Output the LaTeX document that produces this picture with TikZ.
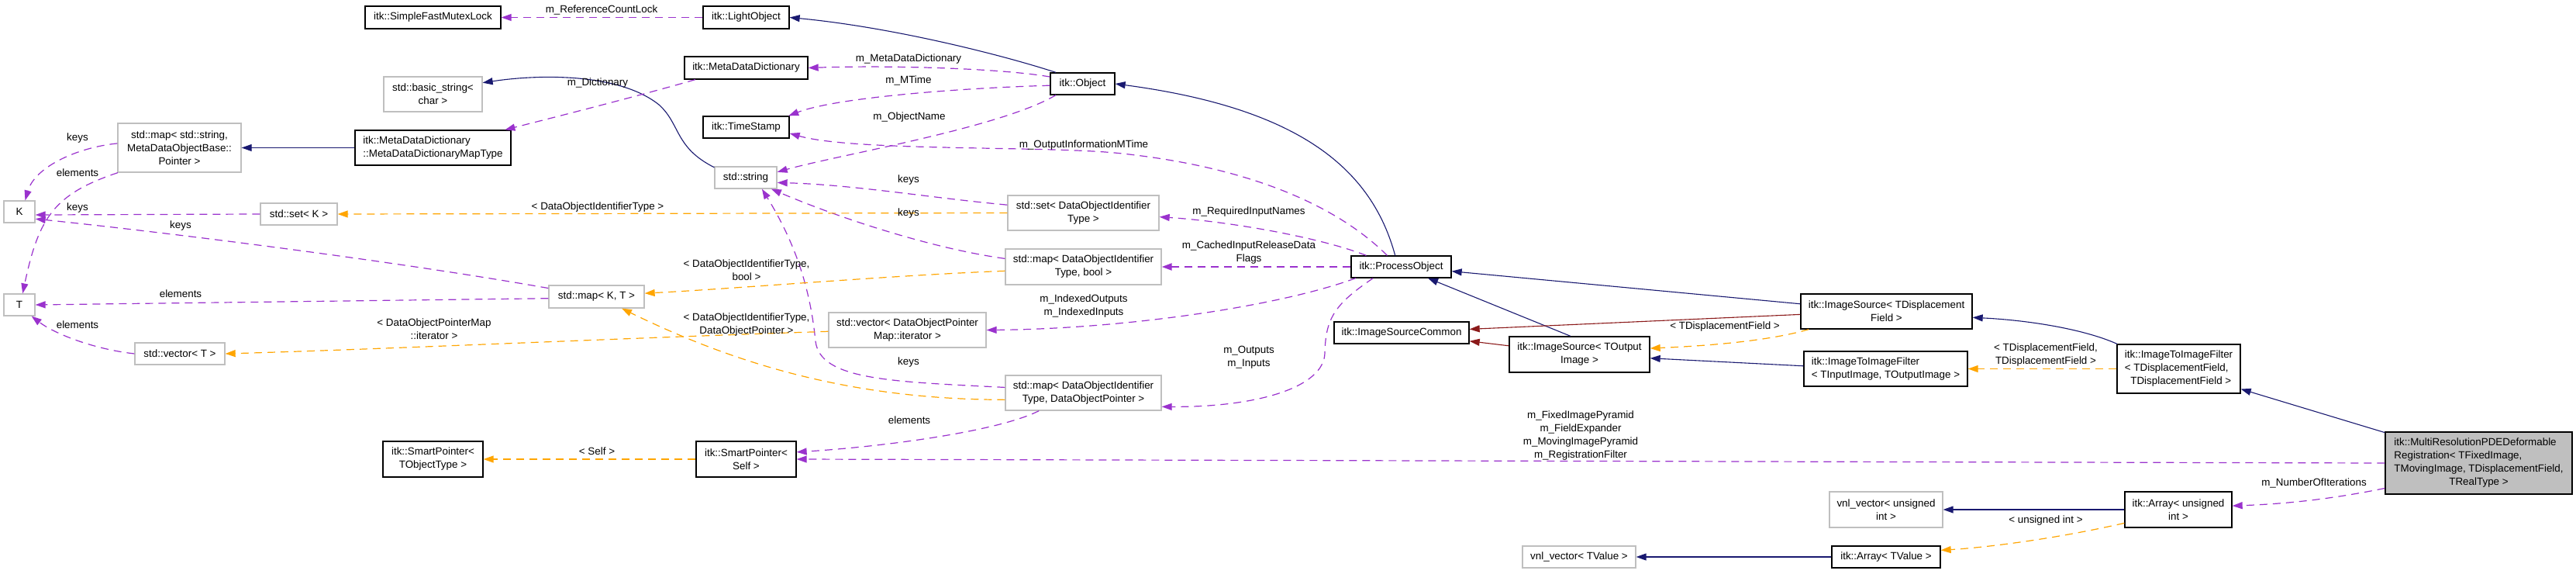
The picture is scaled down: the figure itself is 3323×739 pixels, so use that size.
\documentclass[tikz,border=0pt]{standalone}
\usepackage{fontspec}
\setmainfont{Liberation Sans}
\usetikzlibrary{arrows.meta}
\definecolor{inhblue}{HTML}{191970}
\definecolor{usepurple}{HTML}{9A32CD}
\definecolor{tmplorange}{HTML}{FFA500}
\definecolor{inhred}{HTML}{8B1A1A}
\definecolor{boxgray}{HTML}{BFBFBF}
\newcommand\dgfont{\fontsize{6.7pt}{8.5pt}\selectfont}
\begin{document}
\begin{tikzpicture}[x=0.5pt,y=-0.5pt,
 cls/.style={draw=black,line width=0.65pt,inner sep=1pt,font=\dgfont,align=center,fill=white},
 ucls/.style={cls,draw=boxgray},
 lbl/.style={font=\dgfont,align=center,inner sep=0pt},
 arrtip/.style={-{Triangle[length=6.5pt,width=4.5pt]}},
 inh/.style={draw=inhblue,line width=0.55pt,arrtip},
 inhr/.style={draw=inhred,line width=0.55pt,arrtip},
 use/.style={draw=usepurple,line width=0.6pt,dash pattern=on 5pt off 3.5pt,arrtip},
 tmpl/.style={draw=tmplorange,line width=0.6pt,dash pattern=on 5pt off 3.5pt,arrtip},
]
\useasboundingbox (0,0) rectangle (3323,739);
% nodes
\node[cls,minimum width=87.5pt,minimum height=14.5pt] (smfl) at (558.5,22.5) {itk::SimpleFastMutexLock};
\node[cls,minimum width=55.5pt,minimum height=14.5pt] (light) at (962.5,22.5) {itk::LightObject};
\node[ucls,minimum width=63.5pt,minimum height=22.5pt] (bstr) at (558.5,121.5) {std::basic\_string<\\char >};
\node[cls,minimum width=79.5pt,minimum height=14.5pt] (mdd) at (962.5,87.5) {itk::MetaDataDictionary};
\node[cls,minimum width=41.5pt,minimum height=14pt] (obj) at (1396.5,108) {itk::Object};
\node[cls,minimum width=55.5pt,minimum height=14pt] (ts) at (962.5,164) {itk::TimeStamp};
\node[ucls,minimum width=40pt,minimum height=14pt] (str) at (962,229) {std::string};
\node[ucls,minimum width=79.5pt,minimum height=31.5pt] (mapstr) at (231.5,190.5) {std::map< std::string,\\MetaDataObjectBase::\\Pointer >};
\node[cls,align=left,minimum width=100.5pt,minimum height=22.5pt] (mddmt) at (558.5,190.5) {itk::MetaDataDictionary\\::MetaDataDictionaryMapType};
\node[ucls,minimum width=20pt,minimum height=14pt] (K) at (25,273) {K};
\node[ucls,minimum width=49.5pt,minimum height=14pt] (setK) at (385.5,276) {std::set< K >};
\node[ucls,minimum width=97.5pt,minimum height=22.5pt] (setD) at (1397.5,274.5) {std::set< DataObjectIdentifier\\Type >};
\node[ucls,minimum width=100.5pt,minimum height=23pt] (mapDb) at (1397.5,344) {std::map< DataObjectIdentifier\\Type, bool >};
\node[cls,minimum width=64.5pt,minimum height=14pt] (po) at (1807.5,344) {itk::ProcessObject};
\node[ucls,minimum width=61.5pt,minimum height=14.5pt] (mapKT) at (769.5,382.5) {std::map< K, T >};
\node[ucls,minimum width=20pt,minimum height=14pt] (T) at (25,393) {T};
\node[ucls,minimum width=58pt,minimum height=14pt] (vecT) at (232,456) {std::vector< T >};
\node[ucls,minimum width=101.5pt,minimum height=22.5pt] (vecD) at (1170.5,425.5) {std::vector< DataObjectPointer\\Map::iterator >};
\node[cls,minimum width=87pt,minimum height=14pt] (isc) at (1808,429) {itk::ImageSourceCommon};
\node[cls,minimum width=90.5pt,minimum height=23pt] (isTO) at (2037.5,457) {itk::ImageSource< TOutput\\Image >};
\node[cls,minimum width=110.5pt,minimum height=22.5pt] (isTD) at (2433.5,401.5) {itk::ImageSource< TDisplacement\\Field >};
\node[cls,align=left,minimum width=105.5pt,minimum height=22.5pt] (itif) at (2432.5,475.5) {itk::ImageToImageFilter\\< TInputImage, TOutputImage >};
\node[cls,align=left,minimum width=79.5pt,minimum height=31.5pt] (itifD) at (2810.5,475.5) {itk::ImageToImageFilter\\< TDisplacementField,\\\ \ TDisplacementField >};
\node[ucls,minimum width=100.5pt,minimum height=22.5pt] (mapDD) at (1397.5,506.5) {std::map< DataObjectIdentifier\\Type, DataObjectPointer >};
\node[cls,minimum width=64.5pt,minimum height=23pt] (spS) at (962.5,592) {itk::SmartPointer<\\Self >};
\node[cls,minimum width=64.5pt,minimum height=23pt] (spT) at (558.5,592) {itk::SmartPointer<\\TObjectType >};
\node[cls,fill=boxgray,minimum width=120.5pt,minimum height=40pt] (mr) at (3197.5,597) {\begin{tabular}{@{}l@{}}itk::MultiResolutionPDEDeformable\\Registration< TFixedImage,\\\multicolumn{1}{@{}c@{}}{TMovingImage, TDisplacementField,}\\\multicolumn{1}{@{}c@{}}{TRealType >}\end{tabular}};
\node[ucls,minimum width=73pt,minimum height=23pt] (vnlU) at (2433,657) {vnl\_vector< unsigned\\int >};
\node[cls,minimum width=69pt,minimum height=23pt] (arrU) at (2810,657) {itk::Array< unsigned\\int >};
\node[ucls,minimum width=73pt,minimum height=14pt] (vnlT) at (2037,718) {vnl\_vector< TValue >};
\node[cls,minimum width=70pt,minimum height=14pt] (arrT) at (2433,718) {itk::Array< TValue >};
% edges
\draw[use] (light.west) -- (smfl.east);
\draw[inh] (obj.157) .. controls (1290,70) and (1150,35) .. (light.east);
\draw[use] (obj.168) .. controls (1290,88) and (1150,84) .. (mdd.east);
\draw[use] (obj.183) .. controls (1250,113) and (1080,125) .. (ts.15);
\draw[use] (obj.203) .. controls (1290,165) and (1080,200) .. (str.10);
\draw[use] (po.141) .. controls (1730,270) and (1620,215) .. (1438,197) .. controls (1340,188) and (1100,195) .. (ts.-8);
\draw[use] (setD.174) .. controls (1200,255) and (1100,238) .. (str.-9);
\draw[use] (mapDb.174) .. controls (1200,320) and (1080,280) .. (str.-24);
\draw[use] (mapDD.176) .. controls (1150,492) and (1058,490) .. (1052,440) .. controls (1046,380) and (1030,320) .. (str.-35);
\draw[use] (po.162) .. controls (1700,305) and (1580,285) .. (setD.-3);
\draw[use,line width=1.1pt] (po.west) -- (mapDb.east);
\draw[use] (po.194) .. controls (1650,395) and (1450,424) .. (vecD.east);
\draw[use] (po.202) .. controls (1722,392) and (1710,410) .. (1709,455) .. controls (1708,500) and (1620,525) .. (mapDD.-10);
\draw[use] (mapDD.202) .. controls (1290,555) and (1150,575) .. (spS.8);
\draw[use] (mr.west) -- (spS.east);
\draw[tmpl] (spS.west) -- (spT.east);
\draw[tmpl] (mapDb.183) .. controls (1150,355) and (950,372) .. (mapKT.4);
\draw[tmpl] (mapDD.185) .. controls (1100,515) and (950,470) .. (mapKT.-25);
\draw[tmpl] (vecD.181) .. controls (800,436) and (500,450) .. (vecT.east);
\draw[tmpl] (setD.west) -- (setK.east);
\draw[tmpl] (itifD.west) -- (itif.east);
\draw[tmpl] (isTD.193) .. controls (2280,440) and (2200,446) .. (isTO.5);
\draw[tmpl] (arrU.194) .. controls (2650,695) and (2560,706) .. (arrT.7);
\draw[inh] (po.118) .. controls (1770,220) and (1680,140) .. (obj.east);
\draw[inh] (mddmt.west) -- (mapstr.east);
\draw[inh] (str.162) .. controls (870,190) and (878,160) .. (850,135) .. controls (800,95) and (700,95) .. (bstr.13);
\draw[use] (mdd.193) .. controls (830,122) and (720,150) .. (mddmt.14);
\draw[inh] (isTD.175) -- (po.-5);
\draw[inh] (isTO.116) -- (po.-23);
\draw[inhr] (isTD.182) -- (isc.3);
\draw[inhr] (isTO.173) -- (isc.-7);
\draw[inh] (itif.178) -- (isTO.-3);
\draw[inh] (itifD.158) .. controls (2690,425) and (2620,413) .. (isTD.-4);
\draw[inh] (mr.162) -- (itifD.-18);
\draw[inh] (arrU.west) -- (vnlU.east);
\draw[inh] (arrT.west) -- (vnlT.east);
\draw[use] (mr.195) .. controls (3000,645) and (2940,650) .. (arrU.4);
\draw[use] (mapstr.176) .. controls (100,190) and (45,215) .. (K.63);
\draw[use] (mapstr.202) .. controls (70,250) and (50,280) .. (T.74);
\draw[use] (setK.west) -- (K.-11);
\draw[use] (mapKT.170) .. controls (500,335) and (200,298) .. (K.-24);
\draw[use] (mapKT.182) -- (T.east);
\draw[use] (vecT.west) .. controls (120,450) and (70,430) .. (T.-43);
% labels
\node[lbl] (l1) at (776,13) {m\_ReferenceCountLock};
\node[lbl] (l2) at (1172,76) {m\_MetaDataDictionary};
\node[lbl] (l3) at (1172,104) {m\_MTime};
\node[lbl] (l4) at (1173,151) {m\_ObjectName};
\node[lbl] (l5) at (1398,187) {m\_OutputInformationMTime};
\node[lbl] (l6) at (1172,232) {keys};
\node[lbl] (l7) at (1172,275) {keys};
\node[lbl] (l8) at (1172,467) {keys};
\node[lbl] (l9) at (1611,273) {m\_RequiredInputNames};
\node[lbl] (l10) at (1611,325.5) {m\_CachedInputReleaseData\\Flags};
\node[lbl] (l11) at (1398,395) {m\_IndexedOutputs\\m\_IndexedInputs};
\node[lbl] (l12) at (1611,460.5) {m\_Outputs\\m\_Inputs};
\node[lbl] (l13) at (1173,542) {elements};
\node[lbl] (l14) at (2039,562) {m\_FixedImagePyramid\\m\_FieldExpander\\m\_MovingImagePyramid\\m\_RegistrationFilter};
\node[lbl] (l15) at (770,582) {< Self >};
\node[lbl] (l16) at (963,348.5) {< DataObjectIdentifierType,\\bool >};
\node[lbl] (l17) at (963,419) {< DataObjectIdentifierType,\\DataObjectPointer >};
\node[lbl] (l18) at (560,424.5) {< DataObjectPointerMap\\::iterator >};
\node[lbl] (l19) at (771,267) {< DataObjectIdentifierType >};
\node[lbl] (l20) at (2639,458) {< TDisplacementField,\\TDisplacementField >};
\node[lbl] (l21) at (2225,421) {< TDisplacementField >};
\node[lbl] (l22) at (2639,671) {< unsigned int >};
\node[lbl] (l23) at (2985,623) {m\_NumberOfIterations};
\node[lbl] (l24) at (771,107) {m\_Dictionary};
\node[lbl] (l25) at (100,178) {keys};
\node[lbl] (l26) at (100,223) {elements};
\node[lbl] (l27) at (100,268) {keys};
\node[lbl] (l28) at (233,291) {keys};
\node[lbl] (l29) at (233,379) {elements};
\node[lbl] (l30) at (100,419) {elements};
\end{tikzpicture}
\end{document}
